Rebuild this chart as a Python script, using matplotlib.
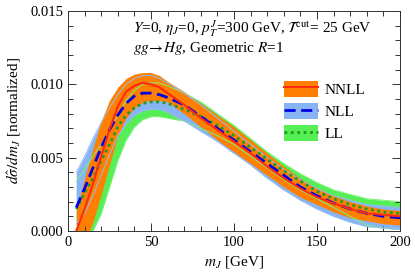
import numpy as np
import matplotlib

matplotlib.use("Agg")
import matplotlib.pyplot as plt
from matplotlib.patches import Patch
from matplotlib.lines import Line2D
from matplotlib.ticker import MultipleLocator

plt.rcParams["font.family"] = ["Liberation Serif", "DejaVu Serif"]
plt.rcParams["mathtext.fontset"] = "stix"

# jet mass grid [GeV]
m_J = [5, 10, 15, 20, 25, 30, 35, 40, 45, 50, 55, 60, 70, 80, 90, 100,
       110, 120, 130, 140, 150, 160, 170, 180, 190, 200]

# NNLL: central, upper, lower
nnll = [0.0000, 0.0015, 0.0032, 0.0051, 0.0069, 0.0085, 0.0095, 0.0099, 0.0101, 0.0100,
        0.0098, 0.0094, 0.0086, 0.0077, 0.0069, 0.0061, 0.0053, 0.0044, 0.0036, 0.0029,
        0.0023, 0.0019, 0.0015, 0.0012, 0.0011, 0.0010]
nnll_hi = [0.0014, 0.0036, 0.0056, 0.0075, 0.0089, 0.0098, 0.0104, 0.0107, 0.0108, 0.0108,
           0.0106, 0.0102, 0.0095, 0.0087, 0.0079, 0.0071, 0.0062, 0.0053, 0.0044, 0.0036,
           0.0029, 0.0024, 0.0020, 0.0017, 0.0015, 0.0014]
nnll_lo = [-0.0020, -0.0008, 0.0006, 0.0025, 0.0045, 0.0065, 0.0077, 0.0084, 0.0088, 0.0089,
           0.0089, 0.0088, 0.0080, 0.0071, 0.0062, 0.0054, 0.0046, 0.0038, 0.0030, 0.0023,
           0.0018, 0.0013, 0.0009, 0.0007, 0.0005, 0.0004]

# NLL: central, upper, lower
nll = [0.0016, 0.0029, 0.0043, 0.0057, 0.0069, 0.0079, 0.0087, 0.0092, 0.0094, 0.0094,
       0.0093, 0.0091, 0.0086, 0.0078, 0.0070, 0.0062, 0.0054, 0.0046, 0.0038, 0.0030,
       0.0024, 0.0019, 0.0015, 0.0012, 0.0010, 0.0009]
nll_hi = [0.0040, 0.0051, 0.0063, 0.0074, 0.0084, 0.0093, 0.0100, 0.0104, 0.0106, 0.0106,
          0.0104, 0.0101, 0.0094, 0.0086, 0.0077, 0.0068, 0.0059, 0.0050, 0.0042, 0.0035,
          0.0029, 0.0024, 0.0021, 0.0018, 0.0017, 0.0016]
nll_lo = [0.0005, 0.0012, 0.0024, 0.0038, 0.0052, 0.0065, 0.0073, 0.0079, 0.0082, 0.0083,
          0.0083, 0.0081, 0.0075, 0.0068, 0.0061, 0.0053, 0.0045, 0.0036, 0.0028, 0.0021,
          0.0015, 0.0010, 0.0006, 0.0003, 0.0002, 0.0001]

# LL: central, upper, lower
ll = [0.0015, 0.0026, 0.0036, 0.0048, 0.0059, 0.0071, 0.0079, 0.0084, 0.0087, 0.0088,
      0.0088, 0.0087, 0.0083, 0.0078, 0.0072, 0.0065, 0.0057, 0.0049, 0.0041, 0.0034,
      0.0027, 0.0022, 0.0018, 0.0015, 0.0013, 0.0012]
ll_hi = [0.0034, 0.0042, 0.0051, 0.0059, 0.0068, 0.0079, 0.0089, 0.0096, 0.0100, 0.0101,
         0.0101, 0.0099, 0.0094, 0.0088, 0.0080, 0.0072, 0.0063, 0.0054, 0.0046, 0.0039,
         0.0033, 0.0028, 0.0025, 0.0022, 0.0021, 0.0020]
ll_lo = [-0.0010, -0.0005, 0.0000, 0.0012, 0.0030, 0.0048, 0.0062, 0.0071, 0.0076, 0.0078,
         0.0078, 0.0077, 0.0075, 0.0070, 0.0065, 0.0059, 0.0051, 0.0043, 0.0035, 0.0028,
         0.0022, 0.0016, 0.0010, 0.0004, 0.0002, 0.0001]

orange = "#ff8000"
lblue = "#88b4f4"
lgreen = "#55ee55"

fig = plt.figure(figsize=(4.15, 2.79), dpi=100)
ax = fig.add_axes([68 / 415, 48 / 279, 332 / 415, 220 / 279])

# bands: LL bottom, NNLL on top
ax.fill_between(m_J, ll_lo, ll_hi, color=lgreen, lw=0)
ax.fill_between(m_J, nll_lo, nll_hi, color=lblue, lw=0)
ax.fill_between(m_J, nnll_lo, nnll_hi, color=orange, lw=0)

# thin band edges
for lo, hi, c in [(ll_lo, ll_hi, "#7cf27c"), (nll_lo, nll_hi, "#95bdf5")]:
    ax.plot(m_J, lo, color=c, lw=0.7)
    ax.plot(m_J, hi, color=c, lw=0.7)

ax.plot(m_J, ll, color="#1f9a1f", lw=2.0, ls=(0, (1, 1.3)))
ax.plot(m_J, nll, color="#0000e6", lw=2.0, ls=(0, (4, 2)))
ax.plot(m_J, nnll, color="#ff2a10", lw=1.5)

ax.set_xlim(0, 200)
ax.set_ylim(0, 0.015)
ax.xaxis.set_major_locator(MultipleLocator(50))
ax.xaxis.set_minor_locator(MultipleLocator(10))
ax.yaxis.set_major_locator(MultipleLocator(0.005))
ax.yaxis.set_minor_locator(MultipleLocator(0.001))
ax.yaxis.set_major_formatter(matplotlib.ticker.FormatStrFormatter("%.3f"))
ax.tick_params(which="both", direction="in", top=True, right=True,
               labelsize=10.5, color="#333333", width=0.7)
ax.tick_params(which="major", length=6)
ax.tick_params(which="minor", length=3.5)
for s in ax.spines.values():
    s.set_color("#333333")
    s.set_linewidth(0.7)

ax.set_xlabel(r"$m_J$ [GeV]", fontsize=11, labelpad=4)
ax.set_ylabel(r"$d\hat{\sigma}/dm_J$ [normalized]", fontsize=11, labelpad=6)

ax.text(0.196, 0.9, r"$Y$=0, $\eta_J$=0, $p_T^J$=300 GeV, $\mathcal{T}^{\rm cut}$= 25 GeV",
        transform=ax.transAxes, fontsize=11)
ax.text(0.196, 0.815, r"$gg\!\rightarrow\! Hg$, Geometric $R$=1",
        transform=ax.transAxes, fontsize=11)

handles = [
    (Patch(fc=orange, lw=0), Line2D([], [], color="#ff2a10", lw=1.5)),
    (Patch(fc=lblue, lw=0), Line2D([], [], color="#0000e6", lw=2.0, ls=(0, (4, 2)))),
    (Patch(fc=lgreen, lw=0), Line2D([], [], color="#1f9a1f", lw=2.0, ls=(0, (1, 1.3)))),
]
ax.legend(handles, ["NNLL", "NLL", "LL"], loc="upper left",
          bbox_to_anchor=(284 / 415, 1 - 81 / 279), bbox_transform=fig.transFigure,
          frameon=False, fontsize=11, handlelength=2.2, handleheight=1.2,
          labelspacing=0.4, handletextpad=0.45, borderpad=0, borderaxespad=0)

fig.savefig("out.png", dpi=100)
